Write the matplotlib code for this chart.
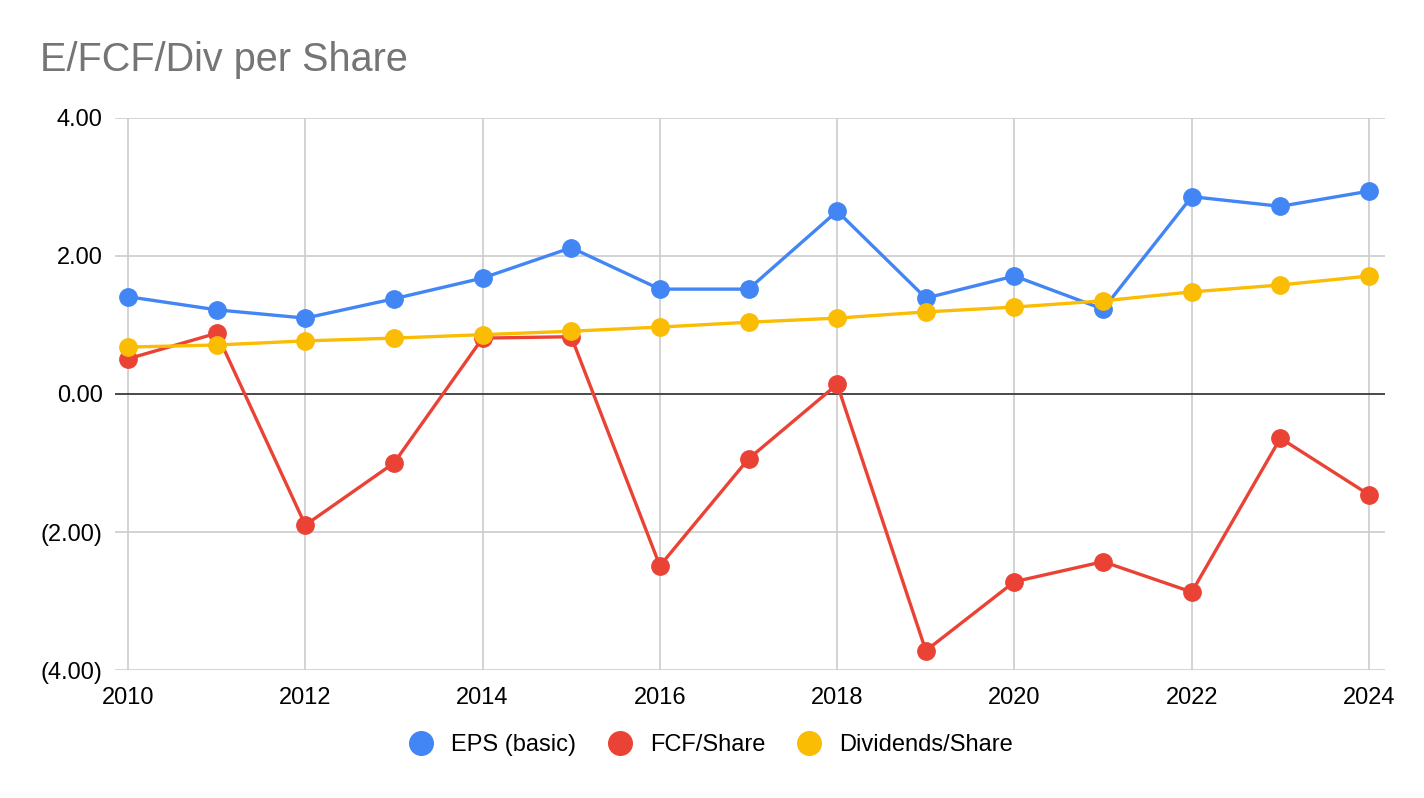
import matplotlib.pyplot as plt
from matplotlib.ticker import FuncFormatter, MultipleLocator
from matplotlib.lines import Line2D

plt.rcParams['font.family'] = ['Liberation Sans', 'DejaVu Sans']

years = list(range(2010, 2025))
eps = [1.41, 1.22, 1.10, 1.38, 1.68, 2.12, 1.52, 1.52, 2.65, 1.39, 1.71, 1.23, 2.86, 2.72, 2.94]
fcf = [0.51, 0.88, -1.90, -1.00, 0.81, 0.83, -2.49, -0.94, 0.14, -3.72, -2.72, -2.43, -2.87, -0.64, -1.46]
divs = [0.68, 0.71, 0.77, 0.81, 0.86, 0.91, 0.97, 1.04, 1.10, 1.19, 1.26, 1.35, 1.48, 1.58, 1.71]

series = [
    ('EPS (basic)', eps, '#4285F4'),
    ('FCF/Share', fcf, '#EA4335'),
    ('Dividends/Share', divs, '#FBBC04'),
]

fig = plt.figure(figsize=(14.24, 7.98), dpi=100)
ax = fig.add_axes([115 / 1424, 1 - 670 / 798, (1385 - 115) / 1424, (670 - 118) / 798])

for name, vals, col in series:
    ax.plot(years, vals, color=col, lw=2.4, marker='o', ms=12.5, label=name,
            solid_capstyle='round', zorder=3)

ax.set_xlim(2009.853, 2024.18)
ax.set_ylim(-4, 4)
ax.yaxis.set_major_locator(MultipleLocator(2))
ax.set_xticks(range(2010, 2025, 2))


def fmt(v, pos):
    if v < 0:
        return f'({abs(v):.2f})'
    return f'{v:.2f}'


ax.yaxis.set_major_formatter(FuncFormatter(fmt))
ax.grid(True, color='#cccccc', lw=1.2)
ax.axhline(0, color='#333333', lw=1.2, zorder=2)
for s in ax.spines.values():
    s.set_visible(False)
ax.tick_params(axis='both', length=0, labelsize=17, colors='black')
ax.tick_params(axis='y', pad=9)
ax.tick_params(axis='x', pad=12)

fig.text(40 / 1424, 1 - 60 / 798, 'E/FCF/Div per Share', fontsize=28.5,
         color='#757575', va='center', ha='left')

handles = [Line2D([], [], ls='none', marker='o', ms=17, color=c) for _, _, c in series]
fig.legend(handles, [n for n, _, _ in series], loc='center',
           bbox_to_anchor=(711 / 1424, 1 - 745 / 798), ncol=3, frameon=False,
           fontsize=17, handletextpad=0.76, columnspacing=1.36, handlelength=1.0)

fig.savefig('out.png', dpi=100)
